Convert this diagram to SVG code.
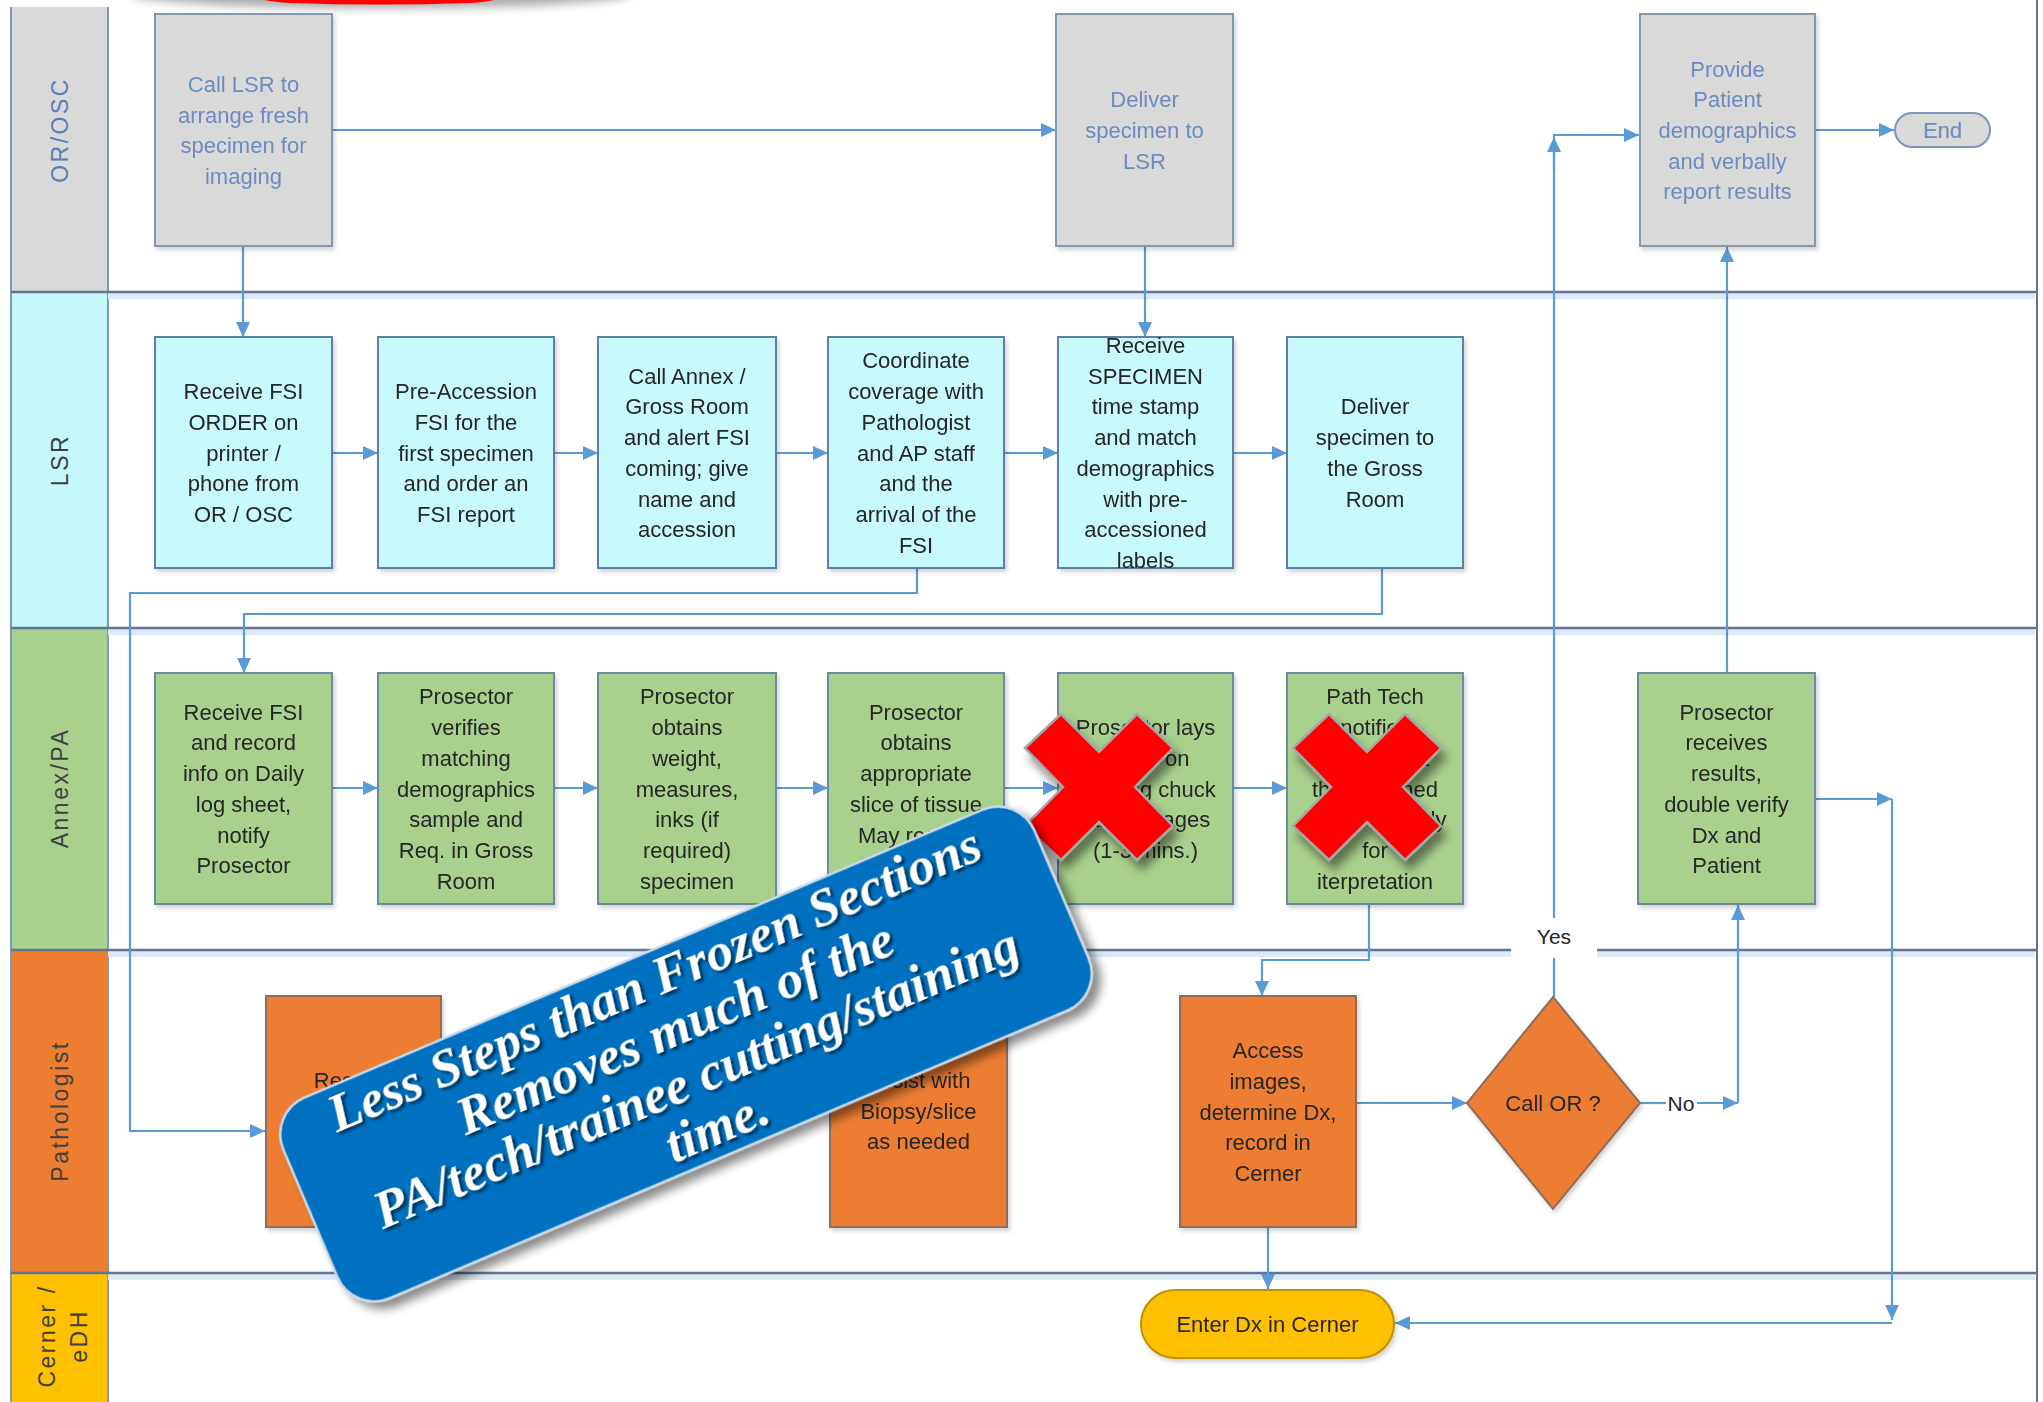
<svg xmlns="http://www.w3.org/2000/svg" width="2043" height="1402" viewBox="0 0 2043 1402">
<defs>
<style>
.t{font-family:'Liberation Sans Narrow','Liberation Sans',Arial,sans-serif;font-size:22px;text-anchor:middle;fill:#262626}
.tg{fill:#6C8CBF}
.lane{font-family:'Liberation Sans','DejaVu Sans',sans-serif;font-size:23px;letter-spacing:2.5px;text-anchor:middle;fill:#404040}
.sep{stroke:#5E7690;stroke-width:2.5;fill:none}
.sepsh{stroke:#DCEAF6;stroke-width:6;fill:none}
.gray{fill:#D9D9D9;stroke:#8497B0;stroke-width:2}
.lsr{fill:#C8F9FC;stroke:#5F7FA8;stroke-width:2}
.grn{fill:#A9D18E;stroke:#6E88A6;stroke-width:2}
.org{fill:#ED7D31;stroke:#8E6E5A;stroke-width:2}
.c{stroke:#5B9BD5;stroke-width:2.2;fill:none}
.ca{stroke:#5B9BD5;stroke-width:2.2;fill:none;marker-end:url(#ah)}
.x{fill:#FF0000;stroke:#A6A6A6;stroke-width:2.5}
.bt{font-family:'Liberation Serif','DejaVu Serif',serif;font-weight:bold;font-style:italic;font-size:53px;text-anchor:middle;fill:#FFFFFF}
</style>
<marker id="ah" markerUnits="userSpaceOnUse" markerWidth="16" markerHeight="14" refX="15" refY="7" orient="auto">
<path d="M0,0 L15,7 L0,14 z" fill="#5B9BD5"/>
</marker>
<filter id="sh" x="-10%" y="-10%" width="130%" height="130%">
<feDropShadow dx="2" dy="3" stdDeviation="2" flood-color="#000" flood-opacity="0.18"/>
</filter>
<filter id="bsh" x="-10%" y="-20%" width="130%" height="150%">
<feDropShadow dx="5" dy="9" stdDeviation="5" flood-color="#000" flood-opacity="0.45"/>
</filter>
<filter id="tsh" x="-5%" y="-20%" width="110%" height="150%">
<feDropShadow dx="2" dy="3" stdDeviation="1.5" flood-color="#000" flood-opacity="0.6"/>
</filter>
<filter id="blur" x="-20%" y="-100%" width="140%" height="300%"><feGaussianBlur stdDeviation="5"/></filter>
<polygon id="xmark" points="-74,-39 -38,-73 0,-35 38,-73 74,-39 36,0 74,39 38,73 0,35 -38,73 -74,39 -36,0"/>
</defs>

<rect x="0" y="0" width="2043" height="1402" fill="#FFFFFF"/>

<!-- top cut-off shape -->
<g id="top-shape">
<ellipse cx="381" cy="-6" rx="250" ry="14" fill="#9A9A9A" filter="url(#blur)" opacity="0.85"/>
<path d="M252,-6 L506,-6 Q502,1 470,3 Q379,6 290,3 Q256,1 252,-6 Z" fill="#FF0000"/>
</g>

<!-- lanes -->
<g id="lanes">
<rect x="11" y="7" width="97" height="285" fill="#D9D9D9"/>
<rect x="11" y="292" width="97" height="336" fill="#C6F8FB"/>
<rect x="11" y="628" width="97" height="322" fill="#A9D18E"/>
<rect x="11" y="950" width="97" height="323" fill="#ED7D31"/>
<rect x="11" y="1273" width="97" height="135" fill="#FFC000"/>
<line x1="11" y1="7" x2="11" y2="1402" stroke="#7F97B8" stroke-width="2"/>
<line x1="108" y1="7" x2="108" y2="1402" stroke="#7F97B8" stroke-width="2"/>
<line x1="2037" y1="0" x2="2037" y2="1402" stroke="#5E7690" stroke-width="2"/>
<path class="sepsh" d="M108,296 H2035 M108,632 H2035 M108,954 H2035 M108,1277 H2035"/>
<path class="sep" d="M11,292 H2037 M11,628 H2037 M11,950 H2037 M11,1273 H2037"/>
<text class="lane" style="fill:#5B7DB5" transform="translate(68,130) rotate(-90)">OR/OSC</text>
<text class="lane" transform="translate(68,460) rotate(-90)">LSR</text>
<text class="lane" transform="translate(68,788) rotate(-90)">Annex/PA</text>
<text class="lane" transform="translate(68,1111) rotate(-90)">Pathologist</text>
<text class="lane" transform="translate(55,1336) rotate(-90)">Cerner /</text>
<text class="lane" transform="translate(87,1336) rotate(-90)">eDH</text>
</g>

<!-- connectors -->
<g id="connectors">
<path class="ca" d="M332,130 H1056"/>
<path class="ca" d="M243,246 V337"/>
<path class="ca" d="M1145,246 V337"/>
<path class="ca" d="M332,453 H378"/>
<path class="ca" d="M554,453 H598"/>
<path class="ca" d="M776,453 H828"/>
<path class="ca" d="M1004,453 H1058"/>
<path class="ca" d="M1233,453 H1287"/>
<path class="ca" d="M917,568 V593 H130 V1131 H265"/>
<path class="ca" d="M1382,568 V614 H244 V673"/>
<path class="ca" d="M332,788 H378"/>
<path class="ca" d="M554,788 H598"/>
<path class="ca" d="M776,788 H828"/>
<path class="ca" d="M1004,788 H1058"/>
<path class="ca" d="M1233,788 H1287"/>
<path class="ca" d="M1369,904 V960 H1262 V996"/>
<path class="ca" d="M1356,1103 H1467"/>
<path class="ca" d="M1554,997 V135 H1639"/>
<path class="ca" d="M1554,170 V137"/>
<path class="c" d="M1640,1103 H1666"/>
<path class="ca" d="M1697,1103 H1738"/>
<path class="ca" d="M1738,1103 V905"/>
<path class="ca" d="M1727,673 V247"/>
<path class="ca" d="M1815,799 H1892"/>
<path class="ca" d="M1892,799 V1320"/>
<path class="ca" d="M1892,1323 H1395"/>
<path class="ca" d="M1268,1227 V1289"/>
<path class="ca" d="M1815,130 H1894"/>
<rect x="1511" y="918" width="86" height="40" fill="#FFFFFF"/>
<text class="t" x="1554" y="944" style="font-size:21px">Yes</text>
<text class="t" x="1681" y="1111" style="font-size:21px">No</text>
</g>

<!-- OR/OSC nodes -->
<g id="n-call-lsr" filter="url(#sh)">
<rect class="gray" x="155" y="14" width="177" height="232"/>
<text class="t tg" x="243.5" y="92"><tspan x="243.5">Call LSR to</tspan><tspan x="243.5" dy="30.7">arrange fresh</tspan><tspan x="243.5" dy="30.7">specimen for</tspan><tspan x="243.5" dy="30.7">imaging</tspan></text>
</g>
<g id="n-deliver-lsr" filter="url(#sh)">
<rect class="gray" x="1056" y="14" width="177" height="232"/>
<text class="t tg" x="1144.5" y="107.3"><tspan x="1144.5">Deliver</tspan><tspan x="1144.5" dy="30.7">specimen to</tspan><tspan x="1144.5" dy="30.7">LSR</tspan></text>
</g>
<g id="n-provide" filter="url(#sh)">
<rect class="gray" x="1640" y="14" width="175" height="232"/>
<text class="t tg" x="1727.5" y="76.6"><tspan x="1727.5">Provide</tspan><tspan x="1727.5" dy="30.7">Patient</tspan><tspan x="1727.5" dy="30.7">demographics</tspan><tspan x="1727.5" dy="30.7">and verbally</tspan><tspan x="1727.5" dy="30.7">report results</tspan></text>
</g>
<g id="n-end">
<rect x="1895" y="113" width="95" height="34" rx="17" fill="#D9D9D9" stroke="#7A96BB" stroke-width="2"/>
<text class="t tg" x="1942.5" y="138">End</text>
</g>

<!-- LSR nodes -->
<g id="n-receive-order" filter="url(#sh)">
<rect class="lsr" x="155" y="337" width="177" height="231"/>
<text class="t" x="243.5" y="399.1"><tspan x="243.5">Receive FSI</tspan><tspan x="243.5" dy="30.7">ORDER on</tspan><tspan x="243.5" dy="30.7">printer /</tspan><tspan x="243.5" dy="30.7">phone from</tspan><tspan x="243.5" dy="30.7">OR / OSC</tspan></text>
</g>
<g id="n-pre-accession" filter="url(#sh)">
<rect class="lsr" x="378" y="337" width="176" height="231"/>
<text class="t" x="466" y="399.1"><tspan x="466">Pre-Accession</tspan><tspan x="466" dy="30.7">FSI for the</tspan><tspan x="466" dy="30.7">first specimen</tspan><tspan x="466" dy="30.7">and order an</tspan><tspan x="466" dy="30.7">FSI report</tspan></text>
</g>
<g id="n-call-annex" filter="url(#sh)">
<rect class="lsr" x="598" y="337" width="178" height="231"/>
<text class="t" x="687" y="383.75"><tspan x="687">Call Annex /</tspan><tspan x="687" dy="30.7">Gross Room</tspan><tspan x="687" dy="30.7">and alert FSI</tspan><tspan x="687" dy="30.7">coming; give</tspan><tspan x="687" dy="30.7">name and</tspan><tspan x="687" dy="30.7">accession</tspan></text>
</g>
<g id="n-coordinate" filter="url(#sh)">
<rect class="lsr" x="828" y="337" width="176" height="231"/>
<text class="t" x="916" y="368.4"><tspan x="916">Coordinate</tspan><tspan x="916" dy="30.7">coverage with</tspan><tspan x="916" dy="30.7">Pathologist</tspan><tspan x="916" dy="30.7">and AP staff</tspan><tspan x="916" dy="30.7">and the</tspan><tspan x="916" dy="30.7">arrival of the</tspan><tspan x="916" dy="30.7">FSI</tspan></text>
</g>
<g id="n-receive-specimen" filter="url(#sh)">
<rect class="lsr" x="1058" y="337" width="175" height="231"/>
<text class="t" x="1145.5" y="353"><tspan x="1145.5">Receive</tspan><tspan x="1145.5" dy="30.7">SPECIMEN</tspan><tspan x="1145.5" dy="30.7">time stamp</tspan><tspan x="1145.5" dy="30.7">and match</tspan><tspan x="1145.5" dy="30.7">demographics</tspan><tspan x="1145.5" dy="30.7">with pre-</tspan><tspan x="1145.5" dy="30.7">accessioned</tspan><tspan x="1145.5" dy="30.7">labels</tspan></text>
</g>
<g id="n-deliver-gross" filter="url(#sh)">
<rect class="lsr" x="1287" y="337" width="176" height="231"/>
<text class="t" x="1375" y="414.45"><tspan x="1375">Deliver</tspan><tspan x="1375" dy="30.7">specimen to</tspan><tspan x="1375" dy="30.7">the Gross</tspan><tspan x="1375" dy="30.7">Room</tspan></text>
</g>

<!-- Annex/PA nodes -->
<g id="n-receive-fsi" filter="url(#sh)">
<rect class="grn" x="155" y="673" width="177" height="231"/>
<text class="t" x="243.5" y="719.75"><tspan x="243.5">Receive FSI</tspan><tspan x="243.5" dy="30.7">and record</tspan><tspan x="243.5" dy="30.7">info on Daily</tspan><tspan x="243.5" dy="30.7">log sheet,</tspan><tspan x="243.5" dy="30.7">notify</tspan><tspan x="243.5" dy="30.7">Prosector</tspan></text>
</g>
<g id="n-verifies" filter="url(#sh)">
<rect class="grn" x="378" y="673" width="176" height="231"/>
<text class="t" x="466" y="704.4"><tspan x="466">Prosector</tspan><tspan x="466" dy="30.7">verifies</tspan><tspan x="466" dy="30.7">matching</tspan><tspan x="466" dy="30.7">demographics</tspan><tspan x="466" dy="30.7">sample and</tspan><tspan x="466" dy="30.7">Req. in Gross</tspan><tspan x="466" dy="30.7">Room</tspan></text>
</g>
<g id="n-weight" filter="url(#sh)">
<rect class="grn" x="598" y="673" width="178" height="231"/>
<text class="t" x="687" y="704.4"><tspan x="687">Prosector</tspan><tspan x="687" dy="30.7">obtains</tspan><tspan x="687" dy="30.7">weight,</tspan><tspan x="687" dy="30.7">measures,</tspan><tspan x="687" dy="30.7">inks (if</tspan><tspan x="687" dy="30.7">required)</tspan><tspan x="687" dy="30.7">specimen</tspan></text>
</g>
<g id="n-slice" filter="url(#sh)">
<rect class="grn" x="828" y="673" width="176" height="231"/>
<text class="t" x="916" y="719.75"><tspan x="916">Prosector</tspan><tspan x="916" dy="30.7">obtains</tspan><tspan x="916" dy="30.7">appropriate</tspan><tspan x="916" dy="30.7">slice of tissue</tspan><tspan x="916" dy="30.7">May require</tspan></text>
</g>
<g id="n-lays" filter="url(#sh)">
<rect class="grn" x="1058" y="673" width="175" height="231"/>
<text class="t" x="1145.5" y="735.1"><tspan x="1145.5">Prosector lays</tspan><tspan x="1145.5" dy="30.7">tissue on</tspan><tspan x="1145.5" dy="30.7">imaging chuck</tspan><tspan x="1145.5" dy="30.7">takes images</tspan><tspan x="1145.5" dy="30.7">(1-3 mins.)</tspan></text>
</g>
<g id="n-path-tech" filter="url(#sh)">
<rect class="grn" x="1287" y="673" width="176" height="231"/>
<text class="t" x="1375" y="704.4"><tspan x="1375">Path Tech</tspan><tspan x="1375" dy="30.7">notifies</tspan><tspan x="1375" dy="30.7">Pathologist</tspan><tspan x="1375" dy="30.7">that scanned</tspan><tspan x="1375" dy="30.7">image is ready</tspan><tspan x="1375" dy="30.7">for</tspan><tspan x="1375" dy="30.7">iterpretation</tspan></text>
</g>
<g id="n-prosector-receives" filter="url(#sh)">
<rect class="grn" x="1638" y="673" width="177" height="231"/>
<text class="t" x="1726.5" y="719.75"><tspan x="1726.5">Prosector</tspan><tspan x="1726.5" dy="30.7">receives</tspan><tspan x="1726.5" dy="30.7">results,</tspan><tspan x="1726.5" dy="30.7">double verify</tspan><tspan x="1726.5" dy="30.7">Dx and</tspan><tspan x="1726.5" dy="30.7">Patient</tspan></text>
</g>

<!-- Pathologist nodes -->
<g id="n-receive-notification" filter="url(#sh)">
<rect class="org" x="266" y="996" width="175" height="231"/>
<text class="t" x="353.5" y="1088"><tspan x="353.5">Receive</tspan><tspan x="353.5" dy="30.7">notification</tspan></text>
</g>
<g id="n-assist" filter="url(#sh)">
<rect class="org" x="830" y="996" width="177" height="231"/>
<text class="t" x="918.5" y="1088"><tspan x="918.5">Assist with</tspan><tspan x="918.5" dy="30.7">Biopsy/slice</tspan><tspan x="918.5" dy="30.7">as needed</tspan></text>
</g>
<g id="n-access" filter="url(#sh)">
<rect class="org" x="1180" y="996" width="176" height="231"/>
<text class="t" x="1268" y="1058.1"><tspan x="1268">Access</tspan><tspan x="1268" dy="30.7">images,</tspan><tspan x="1268" dy="30.7">determine Dx,</tspan><tspan x="1268" dy="30.7">record in</tspan><tspan x="1268" dy="30.7">Cerner</tspan></text>
</g>
<g id="n-call-or" filter="url(#sh)">
<polygon class="org" points="1553,997 1640,1103 1553,1209 1467,1103"/>
<text class="t" x="1553" y="1111">Call OR ?</text>
</g>

<!-- Cerner node -->
<g id="n-enter-dx" filter="url(#sh)">
<rect x="1141" y="1290" width="253" height="68" rx="34" fill="#FFC000" stroke="#BF9000" stroke-width="2"/>
<text class="t" x="1267.5" y="1332">Enter Dx in Cerner</text>
</g>

<!-- red crosses -->
<g id="x-marks" filter="url(#bsh)">
<use href="#xmark" class="x" transform="translate(1099,787)"/>
<use href="#xmark" class="x" transform="translate(1367,787)"/>
</g>

<!-- banner -->
<g id="banner" transform="translate(686,1054) rotate(-23)">
<rect x="-408" y="-109" width="816" height="218" rx="40" fill="#0070C0" stroke="#C9D9EA" stroke-width="2.5" filter="url(#bsh)"/>
<g filter="url(#tsh)">
<text class="bt" x="0" y="-64">Less Steps than Frozen Sections</text>
<text class="bt" x="0" y="-11">Removes much of the</text>
<text class="bt" x="0" y="43">PA/tech/trainee cutting/staining</text>
<text class="bt" x="0" y="96">time.</text>
</g>
</g>
</svg>
